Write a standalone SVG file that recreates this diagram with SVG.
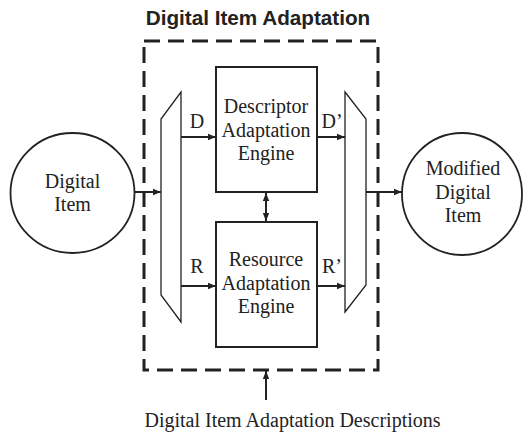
<svg xmlns="http://www.w3.org/2000/svg" width="525" height="436" viewBox="0 0 525 436">
<style>
.serif{font-family:"Liberation Serif","Times New Roman",serif;font-size:20px;fill:#222;text-anchor:middle}
.title{font-family:"Liberation Sans",Arial,sans-serif;font-size:20.7px;font-weight:bold;fill:#222;text-anchor:middle}
.box{fill:#fff;stroke:#222;stroke-width:2}
.trap{fill:#fff;stroke:#222;stroke-width:1.3}
.circ{fill:#fff;stroke:#222;stroke-width:1.8}
.conn{stroke:#222;stroke-width:2;fill:none}
.dash{fill:none;stroke:#222;stroke-width:3;stroke-dasharray:16 8}
</style>
<defs>
<marker id="ah" markerUnits="userSpaceOnUse" markerWidth="9" markerHeight="8" refX="8" refY="4" orient="auto">
<path d="M0,0.8 L8,4 L0,7.2 Z" fill="#222"/>
</marker>
<marker id="ahs" markerUnits="userSpaceOnUse" markerWidth="9" markerHeight="8" refX="0" refY="4" orient="auto">
<path d="M8,0.8 L0,4 L8,7.2 Z" fill="#222"/>
</marker>
</defs>
<text class="title" x="258" y="25">Digital Item Adaptation</text>
<g id="dia-boundary">
<rect class="dash" x="144" y="41" width="234" height="329"/>
</g>
<g id="digital-item">
<ellipse class="circ" cx="72.5" cy="193" rx="62" ry="60"/>
<text class="serif" x="72.5" y="188">Digital</text>
<text class="serif" x="72.5" y="211">Item</text>
</g>
<g id="modified-digital-item">
<ellipse class="circ" cx="462" cy="194" rx="60" ry="61"/>
<text class="serif" x="463" y="175">Modified</text>
<text class="serif" x="463" y="198.5">Digital</text>
<text class="serif" x="463" y="222">Item</text>
</g>
<g id="demux">
<polygon class="trap" points="181,92 181,322 161,295 161,119"/>
</g>
<g id="mux">
<polygon class="trap" points="345,92 366,119 366,285 345,312"/>
</g>
<g id="descriptor-engine">
<rect class="box" x="216" y="67" width="101" height="125"/>
<text class="serif" x="266" y="113">Descriptor</text>
<text class="serif" x="266" y="137">Adaptation</text>
<text class="serif" x="266" y="160">Engine</text>
</g>
<g id="resource-engine">
<rect class="box" x="216" y="222" width="101" height="125"/>
<text class="serif" x="266" y="266">Resource</text>
<text class="serif" x="266" y="290">Adaptation</text>
<text class="serif" x="266" y="313">Engine</text>
</g>
<g id="connectors">
<line class="conn" x1="135" y1="192" x2="161" y2="192" marker-end="url(#ah)"/>
<line class="conn" x1="181" y1="137" x2="216" y2="137" marker-end="url(#ah)"/>
<line class="conn" x1="181" y1="286" x2="216" y2="286" marker-end="url(#ah)"/>
<line class="conn" x1="317" y1="137" x2="345" y2="137" marker-end="url(#ah)"/>
<line class="conn" x1="317" y1="286" x2="345" y2="286" marker-end="url(#ah)"/>
<line class="conn" x1="366" y1="192" x2="402" y2="192" marker-end="url(#ah)"/>
<line class="conn" x1="266" y1="193" x2="266" y2="221" marker-start="url(#ahs)" marker-end="url(#ah)"/>
<line class="conn" x1="266" y1="400" x2="266" y2="371" marker-end="url(#ah)"/>
<text class="serif" x="197" y="128">D</text>
<text class="serif" x="332" y="128">D’</text>
<text class="serif" x="197" y="273">R</text>
<text class="serif" x="332" y="273">R’</text>
</g>
<text class="serif" x="292.5" y="427">Digital Item Adaptation Descriptions</text>
</svg>
